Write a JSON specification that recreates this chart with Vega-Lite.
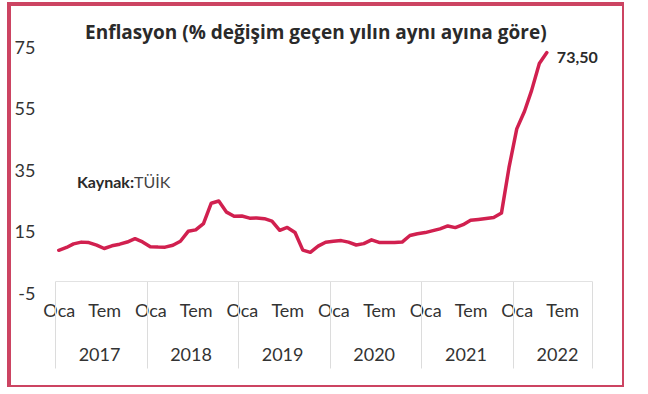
{
  "$schema": "https://vega.github.io/schema/vega-lite/v6.json",
  "autosize": {"type": "none"},
  "padding": {"left": 9, "top": 4, "right": 0, "bottom": 0},
  "width": 615,
  "height": 383,
  "background": "#ffffff",
  "config": {
    "view": {"stroke": "#cc4462", "strokeWidth": 4, "strokeOpacity": 1},
    "font": "Lato",
    "locale": {"number": {"decimal": ",", "thousands": ".", "grouping": [3], "currency": ["", " ₺"]}}
  },
  "title": {
    "text": "Enflasyon (% değişim geçen yılın aynı ayına göre)",
    "anchor": "start",
    "dx": 76,
    "offset": -58,
    "baseline": "bottom",
    "font": "Open Sans",
    "fontSize": 19,
    "fontWeight": "bold",
    "color": "#2a2a2a"
  },
  "data": {
    "values": [
      {"date": "2017-01-01", "value": 9.22}, {"date": "2017-02-01", "value": 10.13}, {"date": "2017-03-01", "value": 11.29}, {"date": "2017-04-01", "value": 11.87},
      {"date": "2017-05-01", "value": 11.72}, {"date": "2017-06-01", "value": 10.90}, {"date": "2017-07-01", "value": 9.79}, {"date": "2017-08-01", "value": 10.68},
      {"date": "2017-09-01", "value": 11.20}, {"date": "2017-10-01", "value": 11.90}, {"date": "2017-11-01", "value": 12.98}, {"date": "2017-12-01", "value": 11.92},
      {"date": "2018-01-01", "value": 10.35}, {"date": "2018-02-01", "value": 10.26}, {"date": "2018-03-01", "value": 10.23}, {"date": "2018-04-01", "value": 10.85},
      {"date": "2018-05-01", "value": 12.15}, {"date": "2018-06-01", "value": 15.39}, {"date": "2018-07-01", "value": 15.85}, {"date": "2018-08-01", "value": 17.90},
      {"date": "2018-09-01", "value": 24.52}, {"date": "2018-10-01", "value": 25.24}, {"date": "2018-11-01", "value": 21.62}, {"date": "2018-12-01", "value": 20.30},
      {"date": "2019-01-01", "value": 20.35}, {"date": "2019-02-01", "value": 19.67}, {"date": "2019-03-01", "value": 19.71}, {"date": "2019-04-01", "value": 19.50},
      {"date": "2019-05-01", "value": 18.71}, {"date": "2019-06-01", "value": 15.72}, {"date": "2019-07-01", "value": 16.65}, {"date": "2019-08-01", "value": 15.01},
      {"date": "2019-09-01", "value": 9.26}, {"date": "2019-10-01", "value": 8.55}, {"date": "2019-11-01", "value": 10.56}, {"date": "2019-12-01", "value": 11.84},
      {"date": "2020-01-01", "value": 12.15}, {"date": "2020-02-01", "value": 12.37}, {"date": "2020-03-01", "value": 11.86}, {"date": "2020-04-01", "value": 10.94},
      {"date": "2020-05-01", "value": 11.39}, {"date": "2020-06-01", "value": 12.62}, {"date": "2020-07-01", "value": 11.76}, {"date": "2020-08-01", "value": 11.77},
      {"date": "2020-09-01", "value": 11.75}, {"date": "2020-10-01", "value": 11.89}, {"date": "2020-11-01", "value": 14.03}, {"date": "2020-12-01", "value": 14.60},
      {"date": "2021-01-01", "value": 14.97}, {"date": "2021-02-01", "value": 15.61}, {"date": "2021-03-01", "value": 16.19}, {"date": "2021-04-01", "value": 17.14},
      {"date": "2021-05-01", "value": 16.59}, {"date": "2021-06-01", "value": 17.53}, {"date": "2021-07-01", "value": 18.95}, {"date": "2021-08-01", "value": 19.25},
      {"date": "2021-09-01", "value": 19.58}, {"date": "2021-10-01", "value": 19.89}, {"date": "2021-11-01", "value": 21.31}, {"date": "2021-12-01", "value": 36.08},
      {"date": "2022-01-01", "value": 48.69}, {"date": "2022-02-01", "value": 54.44}, {"date": "2022-03-01", "value": 61.14}, {"date": "2022-04-01", "value": 69.97},
      {"date": "2022-05-01", "value": 73.50}
    ],
    "format": {"parse": {"date": "date:'%Y-%m-%d'"}}
  },
  "resolve": {"axis": {"x": "independent"}},
  "layer": [
    {
      "mark": {"type": "line", "color": "#d1204f", "strokeWidth": 3.5, "strokeJoin": "round", "strokeCap": "round"},
      "encoding": {
        "x": {
          "field": "date", "type": "temporal",
          "scale": {"type": "time", "domain": [{"year": 2016, "month": 12, "date": 17}, {"year": 2022, "month": 10, "date": 28}], "range": [46, 583], "nice": false},
          "axis": {
            "orient": "bottom", "title": null, "offset": -106,
            "values": [
              {"year": 2017, "month": 1, "date": 1}, {"year": 2017, "month": 7, "date": 1},
              {"year": 2018, "month": 1, "date": 1}, {"year": 2018, "month": 7, "date": 1},
              {"year": 2019, "month": 1, "date": 1}, {"year": 2019, "month": 7, "date": 1},
              {"year": 2020, "month": 1, "date": 1}, {"year": 2020, "month": 7, "date": 1},
              {"year": 2021, "month": 1, "date": 1}, {"year": 2021, "month": 7, "date": 1},
              {"year": 2022, "month": 1, "date": 1}, {"year": 2022, "month": 7, "date": 1}
            ],
            "labelExpr": "month(datum.value) == 0 ? 'Oca' : 'Tem'",
            "ticks": false, "domain": false, "grid": false,
            "labelPadding": 21, "labelFontSize": 18, "labelFont": "Lato", "labelColor": "#333333",
            "labelOverlap": false, "labelFlush": false, "labelBound": false
          }
        },
        "y": {
          "field": "value", "type": "quantitative",
          "scale": {"domain": [-5, 75], "range": [290, 44], "nice": false, "zero": false},
          "axis": {
            "title": null, "values": [-5, 15, 35, 55, 75], "offset": -29,
            "labelExpr": "datum.value < 0 ? '-' + abs(datum.value) : '' + datum.value",
            "ticks": false, "domain": false, "grid": false,
            "labelPadding": 3, "labelFontSize": 18, "labelFont": "Lato", "labelColor": "#333333"
          }
        }
      }
    },
    {
      "transform": [{"filter": {"field": "value", "equal": 73.5}}],
      "mark": {"type": "text", "align": "left", "baseline": "middle", "dx": 10, "dy": 5, "fontSize": 16, "fontWeight": "bold", "color": "#2a2a2a", "font": "Lato"},
      "encoding": {
        "x": {
          "field": "date", "type": "temporal",
          "axis": {
            "orient": "bottom", "title": null, "offset": -106,
            "values": [
              {"year": 2016, "month": 12, "date": 17}, {"year": 2017, "month": 12, "date": 17},
              {"year": 2018, "month": 12, "date": 17}, {"year": 2019, "month": 12, "date": 17},
              {"year": 2020, "month": 12, "date": 17}, {"year": 2021, "month": 12, "date": 17},
              {"year": 2022, "month": 10, "date": 28}
            ],
            "labelExpr": "month(datum.value) == 11 ? '' + (year(datum.value) + 1) : ''",
            "ticks": true, "tickSize": 87, "tickColor": "#dcdcdc", "tickWidth": 1,
            "domain": true, "domainColor": "#e2e2e2", "domainWidth": 1, "grid": false,
            "labelOffset": 44, "labelPadding": -22, "labelFontSize": 18, "labelFont": "Lato", "labelColor": "#333333",
            "labelOverlap": false, "labelFlush": false, "labelBound": false
          }
        },
        "y": {"field": "value", "type": "quantitative"},
        "text": {"field": "value", "type": "quantitative", "format": ".2f"}
      }
    },
    {
      "data": {"values": [{"prefix": "Kaynak:", "name": "TÜİK"}]},
      "mark": {"type": "text", "align": "right", "baseline": "middle", "fontSize": 16, "fontWeight": "bold", "color": "#2a2a2a", "font": "Lato"},
      "encoding": {
        "x": {"datum": {"year": 2017, "month": 10, "date": 28}, "type": "temporal", "axis": null},
        "y": {"datum": 31, "type": "quantitative"},
        "text": {"field": "prefix"}
      }
    },
    {
      "data": {"values": [{"prefix": "Kaynak:", "name": "TÜİK"}]},
      "mark": {"type": "text", "align": "left", "baseline": "middle", "fontSize": 16, "color": "#444444", "font": "Lato"},
      "encoding": {
        "x": {"datum": {"year": 2017, "month": 10, "date": 28}, "type": "temporal", "axis": null},
        "y": {"datum": 31, "type": "quantitative"},
        "text": {"field": "name"}
      }
    }
  ]
}
